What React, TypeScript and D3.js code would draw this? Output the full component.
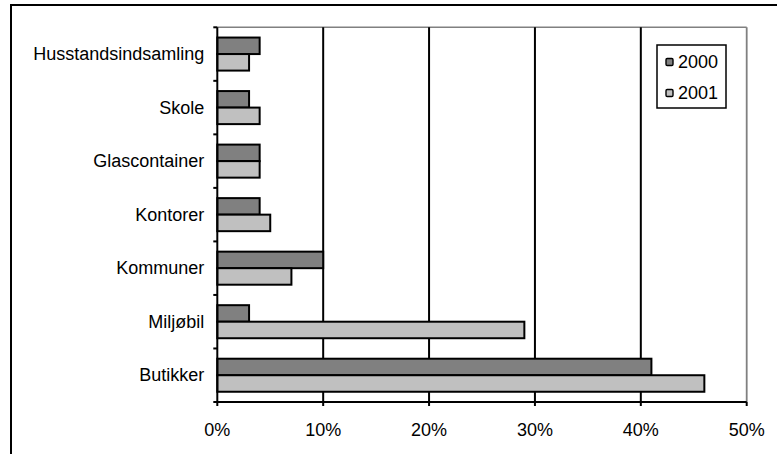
import React from "react";
import * as d3 from "d3";

const categories = [
  "Husstandsindsamling",
  "Skole",
  "Glascontainer",
  "Kontorer",
  "Kommuner",
  "Miljøbil",
  "Butikker",
];
const series2000 = [4, 3, 4, 4, 10, 3, 41];
const series2001 = [3, 4, 4, 5, 7, 29, 46];
const seriesNames = ["2000", "2001"];
const xTicks = [0, 10, 20, 30, 40, 50];

const W = 777;
const H = 454;
const plot = { left: 217.3, right: 746.7, top: 27.3, bottom: 402 };
const colors = ["#808080", "#c0c0c0"];
const font = "'Liberation Sans', Arial, sans-serif";
const fs = 18;

export default function App() {
  const x = d3.scaleLinear().domain([0, 50]).range([plot.left, plot.right]);
  const y = d3.scaleBand().domain(categories).range([plot.top, plot.bottom]);
  const inner = d3
    .scaleBand()
    .domain(seriesNames)
    .range([0, y.bandwidth()])
    .paddingOuter(0.62)
    .paddingInner(0);
  const data = [series2000, series2001];
  const boundaries = d3.range(categories.length + 1).map((i) => plot.top + i * y.step());

  return (
    <svg
      width={W}
      height={H}
      style={{ position: "absolute", left: 0, top: 0, background: "#fff" }}
    >
      <rect x={0} y={0} width={W} height={H} fill="#fff" />
      {/* outer chart frame */}
      <rect x={11} y={5} width={800} height={500} fill="none" stroke="#000" strokeWidth={2} />

      {/* plot area border */}
      <line x1={plot.left} x2={plot.right} y1={plot.top} y2={plot.top} stroke="#808080" strokeWidth={1.5} />
      <line x1={plot.right} x2={plot.right} y1={plot.top} y2={plot.bottom} stroke="#808080" strokeWidth={1.8} />

      {/* vertical gridlines */}
      {xTicks.slice(1, -1).map((t) => (
        <line key={t} x1={x(t)} x2={x(t)} y1={plot.top} y2={plot.bottom} stroke="#000" strokeWidth={2} />
      ))}

      {/* bars */}
      {categories.map((c, i) =>
        seriesNames.map((s, j) => (
          <rect
            key={c + s}
            x={x(0)}
            y={(y(c) as number) + (inner(s) as number)}
            width={x(data[j][i]) - x(0)}
            height={inner.bandwidth()}
            fill={colors[j]}
            stroke="#000"
            strokeWidth={2}
          />
        ))
      )}

      {/* y axis */}
      <line x1={plot.left} x2={plot.left} y1={plot.top} y2={plot.bottom} stroke="#000" strokeWidth={2} />
      {boundaries.map((b, i) => (
        <line key={i} x1={plot.left - 4} x2={plot.left} y1={b} y2={b} stroke="#000" strokeWidth={2} />
      ))}
      {categories.map((c) => (
        <text
          key={c}
          x={plot.left - 13}
          y={(y(c) as number) + y.bandwidth() / 2}
          textAnchor="end"
          dominantBaseline="central"
          fontFamily={font}
          fontSize={fs}
          fill="#000"
        >
          {c}
        </text>
      ))}

      {/* x axis */}
      <line x1={plot.left} x2={plot.right} y1={plot.bottom} y2={plot.bottom} stroke="#000" strokeWidth={2} />
      {xTicks.map((t) => (
        <g key={t}>
          <line x1={x(t)} x2={x(t)} y1={plot.bottom} y2={plot.bottom + 4} stroke="#000" strokeWidth={2} />
          <text
            x={x(t)}
            y={plot.bottom + 34}
            textAnchor="middle"
            fontFamily={font}
            fontSize={fs}
            fill="#000"
          >
            {t}%
          </text>
        </g>
      ))}

      {/* legend */}
      <rect x={657} y={45} width={69} height={63} fill="#fff" stroke="#000" strokeWidth={1.5} />
      {seriesNames.map((s, j) => (
        <g key={s}>
          <rect
            x={666}
            y={58.5 + j * 31}
            width={7}
            height={7}
            rx={1.2}
            fill={colors[j]}
            stroke="#000"
            strokeWidth={1.4}
          />
          <text
            x={678}
            y={62 + j * 31}
            dominantBaseline="central"
            fontFamily={font}
            fontSize={fs}
            fill="#000"
          >
            {s}
          </text>
        </g>
      ))}
    </svg>
  );
}
